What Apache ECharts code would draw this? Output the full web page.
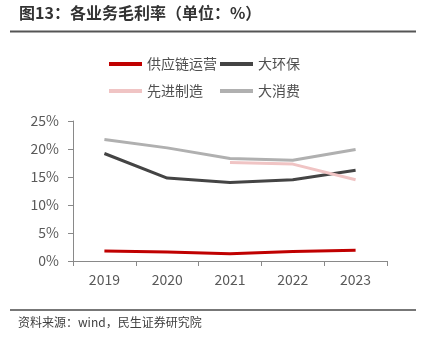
<!DOCTYPE html>
<html>
<head>
<meta charset="utf-8">
<script src="https://cdn.jsdelivr.net/npm/echarts@6/dist/echarts.min.js"></script>
<style>
  html, body { margin: 0; padding: 0; background: #fff; }
  #chart { width: 422px; height: 345px; }
</style>
</head>
<body>
<div id="chart"></div>
<script>
// Gross margin by business segment, 2019-2023 (%)
const years = ['2019', '2020', '2021', '2022', '2023'];
const supplyChain = [1.8, 1.6, 1.3, 1.7, 1.9];      // 供应链运营
const environment = [19.2, 14.8, 14.0, 14.5, 16.2]; // 大环保
const manufacturing = [null, null, 17.6, 17.3, 14.5]; // 先进制造
const consumer = [21.7, 20.2, 18.3, 18.0, 19.9];    // 大消费
const yTicks = [0, 5, 10, 15, 20, 25];

const FONT = '"Noto Sans CJK SC", "Noto Sans", sans-serif';
const chart = echarts.init(document.getElementById('chart'));

const legendText = { fontSize: 14, color: '#505050', fontFamily: FONT };

chart.setOption({
  backgroundColor: '#fff',
  animation: false,
  textStyle: { fontFamily: FONT },
  graphic: [
    { type: 'text', left: 19, top: 5,
      style: { text: '图13：各业务毛利率（单位：%）', font: 'bold 16px ' + FONT, fill: '#333' } },
    { type: 'line', shape: { x1: 10, y1: 31.5, x2: 416, y2: 31.5 },
      style: { stroke: '#555', lineWidth: 2 } },
    { type: 'line', shape: { x1: 10, y1: 310, x2: 416, y2: 310 },
      style: { stroke: '#777', lineWidth: 2 } },
    { type: 'text', left: 18, top: 316,
      style: { text: '资料来源：wind，民生证券研究院', font: '12px ' + FONT, fill: '#404040' } }
  ],
  legend: [
    { left: 104, top: 52, orient: 'vertical', itemGap: 13, itemWidth: 33, itemHeight: 4,
      icon: 'rect', textStyle: legendText, data: ['供应链运营', '先进制造'] },
    { left: 215, top: 52, orient: 'vertical', itemGap: 13, itemWidth: 33, itemHeight: 4,
      icon: 'rect', textStyle: legendText, data: ['大环保', '大消费'] }
  ],
  grid: { left: 73, right: 35, top: 121, bottom: 84 },
  xAxis: {
    type: 'category',
    data: years,
    boundaryGap: true,
    axisLine: { lineStyle: { color: '#898989', width: 1 } },
    axisTick: { show: true, length: 5, alignWithLabel: false, lineStyle: { color: '#898989' } },
    axisLabel: { fontSize: 14, color: '#595959', margin: 12, fontFamily: FONT }
  },
  yAxis: {
    type: 'value',
    min: yTicks[0],
    max: yTicks[yTicks.length - 1],
    interval: 5,
    axisLine: { show: true, lineStyle: { color: '#898989', width: 1 } },
    axisTick: { show: true, length: 5, lineStyle: { color: '#898989' } },
    splitLine: { show: false },
    axisLabel: { fontSize: 14, color: '#595959', margin: 14, fontFamily: FONT,
                 formatter: v => v + '%' }
  },
  series: [
    { name: '供应链运营', type: 'line', data: supplyChain, symbol: 'none',
      lineStyle: { width: 3, color: '#C00000' }, itemStyle: { color: '#C00000' } },
    { name: '大环保', type: 'line', data: environment, symbol: 'none',
      lineStyle: { width: 3, color: '#444444' }, itemStyle: { color: '#444444' } },
    { name: '先进制造', type: 'line', data: manufacturing, symbol: 'none',
      lineStyle: { width: 3, color: '#F0C4C4' }, itemStyle: { color: '#F0C4C4' } },
    { name: '大消费', type: 'line', data: consumer, symbol: 'none', z: 1,
      lineStyle: { width: 3, color: '#B0B0B0' }, itemStyle: { color: '#B0B0B0' } }
  ]
});
</script>
</body>
</html>
